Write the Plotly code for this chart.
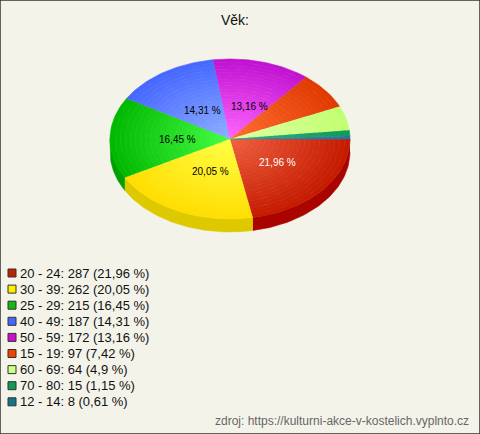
import numpy as np
import plotly.graph_objects as go

# data
kategorie = ["20 - 24", "30 - 39", "25 - 29", "40 - 49", "50 - 59", "15 - 19", "60 - 69", "70 - 80", "12 - 14"]
pocty = [287, 262, 215, 187, 172, 97, 64, 15, 8]

# styles: svetla barva u stredu, tmava na okraji, bok, legenda
barvy_stred = ["#f06040", "#ffff44", "#44ff44", "#90b0ff", "#ff66ff", "#ff7030", "#e0ffa8", "#22bb77", "#4a8aa0"]
barvy_okraj = ["#c41a00", "#ffdd00", "#00b800", "#4466ff", "#c010d0", "#e03800", "#c0ff70", "#109858", "#227799"]
barvy_bok = ["#aa0400", "#dec800", "#00a000", "#3350d0", "#a010b0", "#c03000", "#a0d050", "#087040", "#115566"]
barvy_legenda = ["#bb2200", "#ffee00", "#11bb11", "#4466ff", "#cc11cc", "#ee4400", "#ccff88", "#119955", "#117788"]
barvy_textu = ["white", "black", "black", "black", "black", "black", "black", "black", "black"]

cx, cy, rx, ry, hloubka = 230, 139, 120, 80, 13
kruhy = 24

celkem = sum(pocty)
podily = [p / celkem for p in pocty]
hranice = np.concatenate([[0], np.cumsum(podily)]) * 2 * np.pi


def fmt(p):
    return f"{p:.2f}".rstrip("0").rstrip(".").replace(".", ",")


def mix(c1, c2, f):
    a = [int(c1[k:k + 2], 16) for k in (1, 3, 5)]
    b = [int(c2[k:k + 2], 16) for k in (1, 3, 5)]
    return "#" + "".join(f"{round(a[k] + (b[k] - a[k]) * f):02x}" for k in range(3))


fig = go.Figure()

# Boky (predni strana)
for i in range(len(pocty)):
    s0, s1 = max(hranice[i], 0), min(hranice[i + 1], np.pi)
    if s1 <= s0:
        continue
    t = np.linspace(s0, s1, 60)
    x = cx + rx * np.cos(t)
    y = cy + ry * np.sin(t)
    fig.add_trace(go.Scatter(
        x=np.concatenate([x, x[::-1]]),
        y=np.concatenate([y, y[::-1] + hloubka]),
        fill="toself", fillcolor=barvy_bok[i], mode="lines",
        line=dict(color=barvy_bok[i], width=0.5), hoverinfo="skip", showlegend=False))

# Horni plocha - soustredne pasy pro prechod barvy
for i in range(len(pocty)):
    t = np.linspace(hranice[i], hranice[i + 1], max(int(podily[i] * 300), 4))
    for k in range(kruhy):
        r0, r1 = k / kruhy, (k + 1) / kruhy
        x = np.concatenate([cx + r1 * rx * np.cos(t), cx + r0 * rx * np.cos(t[::-1])])
        y = np.concatenate([cy + r1 * ry * np.sin(t), cy + r0 * ry * np.sin(t[::-1])])
        c = mix(barvy_stred[i], barvy_okraj[i], (k + 0.5) / kruhy)
        fig.add_trace(go.Scatter(
            x=x, y=y, fill="toself", fillcolor=c, mode="lines",
            line=dict(color=c, width=0.6), hoverinfo="skip", showlegend=False))

# Popisky v kolaci
for i in range(len(pocty)):
    if podily[i] < 0.1:
        continue
    m = (hranice[i] + hranice[i + 1]) / 2
    fig.add_annotation(x=cx + 0.47 * rx * np.cos(m) + 4, y=cy + 0.44 * ry * np.sin(m) + 1,
                       text=fmt(podily[i] * 100) + " %", showarrow=False,
                       font=dict(size=10, color=barvy_textu[i]))

# Legenda
for i in range(len(pocty)):
    yy = 273 + 16.1 * i
    fig.add_trace(go.Scatter(
        x=[12], y=[yy], mode="markers", hoverinfo="skip", showlegend=False,
        marker=dict(symbol="square", size=8, color=barvy_legenda[i], line=dict(color="#333333", width=1))))
    fig.add_annotation(x=18, y=yy, xanchor="left", showarrow=False,
                       text=f"{kategorie[i]}: {pocty[i]} ({fmt(podily[i] * 100)} %)",
                       font=dict(size=13, color="#111111"))

fig.add_annotation(x=235, y=20, text="Věk:", showarrow=False, font=dict(size=14, color="#111111"))
fig.add_annotation(x=471, y=421, xanchor="right", showarrow=False,
                   text="zdroj: https://kulturni-akce-v-kostelich.vyplnto.cz",
                   font=dict(size=12, color="#666666"))

fig.update_layout(
    width=480, height=434,
    margin=dict(l=0, r=0, t=0, b=0),
    paper_bgcolor="#f4f3ea", plot_bgcolor="#f4f3ea",
    font=dict(family="Liberation Sans, Arial, sans-serif"),
    xaxis=dict(range=[0, 480], visible=False, fixedrange=True),
    yaxis=dict(range=[434, 0], visible=False, fixedrange=True),
    shapes=[dict(type="rect", xref="paper", yref="paper", x0=0, y0=0, x1=1, y1=1,
                 line=dict(color="#333333", width=1.5))],
)

fig.write_html("out.html", config={"displayModeBar": False},
               post_script="document.body.style.margin='0';document.body.style.overflow='hidden';")
